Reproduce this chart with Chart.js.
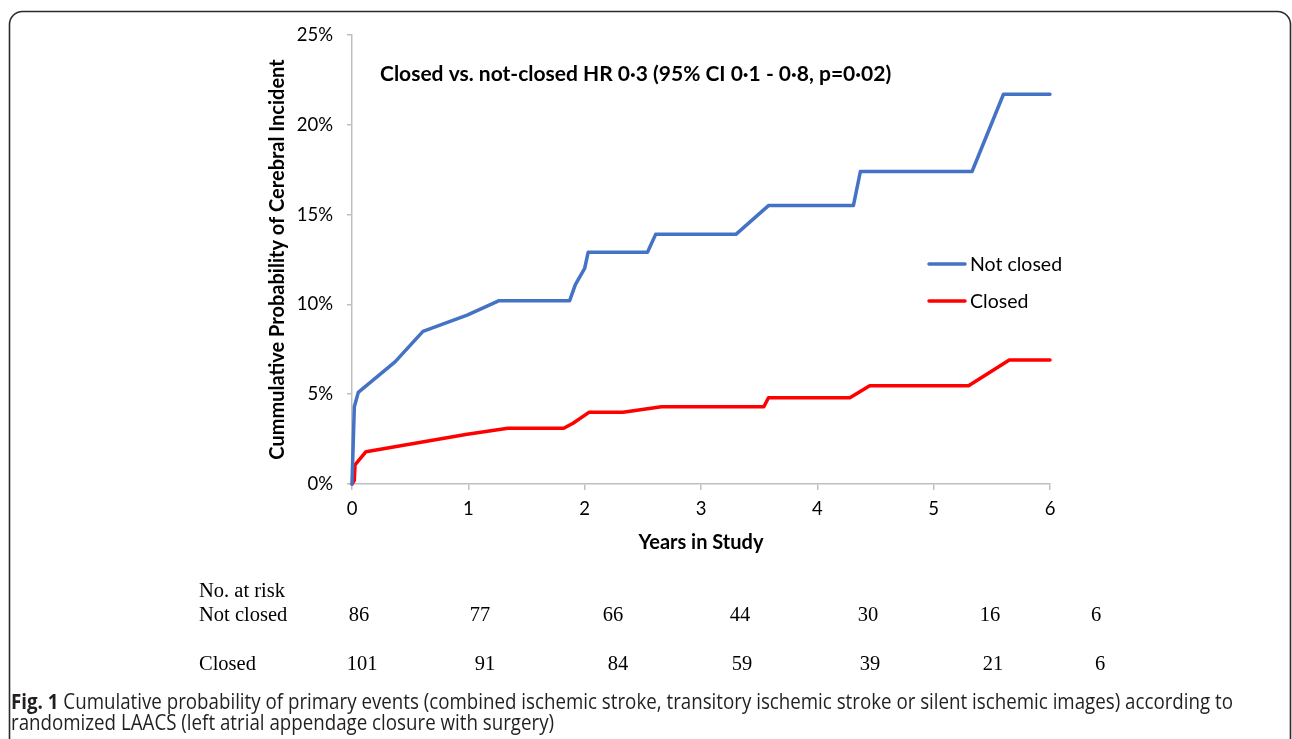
<!DOCTYPE html>
<html>
<head>
<meta charset="utf-8">
<script src="https://cdn.jsdelivr.net/npm/chart.js@4"></script>
<style>
  html, body { margin: 0; padding: 0; background: #fff; }
  #wrap { width: 1292px; height: 739px; position: relative; }
</style>
</head>
<body>
<div id="wrap"><canvas id="cumChart" width="1292" height="739"></canvas></div>
<script>
// Kaplan-Meier style cumulative incidence
const notClosedYears = [0, 0.02, 0.054, 0.37, 0.61, 0.99, 1.26, 1.87, 1.92, 2.0, 2.03, 2.54, 2.61, 3.30, 3.58, 4.31, 4.37, 5.33, 5.60, 6.0];
const notClosedPct = [0, 4.3, 5.1, 6.8, 8.5, 9.4, 10.2, 10.2, 11.1, 12.0, 12.9, 12.9, 13.9, 13.9, 15.5, 15.5, 17.4, 17.4, 21.7, 21.7];
const closedYears = [0, 0.02, 0.026, 0.12, 0.99, 1.34, 1.82, 1.9, 2.04, 2.33, 2.66, 3.54, 3.58, 4.28, 4.45, 5.30, 5.65, 6.0];
const closedPct = [0, 0.2, 1.06, 1.8, 2.77, 3.1, 3.1, 3.38, 4.0, 4.0, 4.3, 4.3, 4.8, 4.8, 5.47, 5.47, 6.9, 6.9];

const seriesLabels = ['Not closed', 'Closed'];
const yTicksPct = [0, 5, 10, 15, 20, 25];
const xTicksYears = [0, 1, 2, 3, 4, 5, 6];

// number at risk table
const riskNotClosed = [86, 77, 66, 44, 30, 16, 6];
const riskClosed = [101, 91, 84, 59, 39, 21, 6];

const hrText = 'Closed vs. not-closed HR 0\u00b73 (95% CI 0\u00b71 - 0\u00b78, p=0\u00b702)';
const captionBold = 'Fig. 1';
const captionLine1 = ' Cumulative probability of primary events (combined ischemic stroke, transitory ischemic stroke or silent ischemic images) according to';
const captionLine2 = 'randomized LAACS (left atrial appendage closure with surgery)';

const toPoints = (xs, ys) => xs.map((x, i) => ({ x: x, y: ys[i] }));

const axisGrey = '#BFBFBF';
const calibriLike = 'Lato, "Open Sans", sans-serif';

// frame, annotation, legend, risk table and caption
const extrasPlugin = {
    id: 'extras',
    beforeDraw(chart) {
        const ctx = chart.ctx;
        ctx.save();
        ctx.fillStyle = '#fff';
        ctx.fillRect(0, 0, chart.width, chart.height);
        // rounded figure frame
        ctx.strokeStyle = '#2b2b2b';
        ctx.lineWidth = 1.6;
        ctx.beginPath();
        ctx.roundRect(9.5, 11.5, 1281, 760, 13);
        ctx.stroke();
        ctx.restore();
    },
    afterDraw(chart) {
        const ctx = chart.ctx;
        ctx.save();

        // hazard ratio note
        ctx.fillStyle = '#000';
        ctx.font = 'bold 21px ' + calibriLike;
        ctx.textBaseline = 'middle';
        ctx.textAlign = 'left';
        ctx.fillText(hrText, 380, 74, 512);

        // legend
        chart.data.datasets.forEach((ds, i) => {
            const y = 264 + i * 37;
            ctx.strokeStyle = ds.borderColor;
            ctx.lineWidth = 3.5;
            ctx.lineCap = 'round';
            ctx.beginPath();
            ctx.moveTo(929, y);
            ctx.lineTo(965, y);
            ctx.stroke();
            ctx.fillStyle = '#000';
            ctx.font = '19.5px ' + calibriLike;
            ctx.textBaseline = 'middle';
            ctx.fillText(ds.label, 970, y + 1);
        });

        // number at risk
        ctx.font = '20.5px "Liberation Serif", "Times New Roman", serif';
        ctx.textBaseline = 'alphabetic';
        ctx.fillStyle = '#000';
        ctx.textAlign = 'left';
        ctx.fillText('No. at risk', 199, 597);
        ctx.fillText(seriesLabels[0], 199, 621);
        ctx.fillText(seriesLabels[1], 199, 670);
        ctx.textAlign = 'center';
        const colsTop = [359, 480, 613, 740, 868, 990, 1096];
        const colsBottom = [362, 485, 618, 742, 870, 993, 1100];
        riskNotClosed.forEach((n, i) => ctx.fillText(String(n), colsTop[i], 621));
        riskClosed.forEach((n, i) => ctx.fillText(String(n), colsBottom[i], 670));

        // caption, squeezed to a condensed look
        ctx.textAlign = 'left';
        ctx.fillStyle = '#231f20';
        const capFont = '"Open Sans", sans-serif';
        ctx.font = 'bold 21.5px ' + capFont;
        const wBold = ctx.measureText(captionBold).width;
        ctx.font = '21.5px ' + capFont;
        const w1 = ctx.measureText(captionLine1).width;
        const squeeze = (1233 - 11) / (wBold + w1);
        ctx.translate(11, 0);
        ctx.scale(squeeze, 1);
        ctx.font = 'bold 21.5px ' + capFont;
        ctx.fillText(captionBold, 0, 709);
        ctx.font = '21.5px ' + capFont;
        ctx.fillText(captionLine1, wBold, 709);
        ctx.fillText(captionLine2, 0, 730);
        ctx.restore();
    }
};

const ctx = document.getElementById('cumChart').getContext('2d');

new Chart(ctx, {
    type: 'scatter',
    data: {
        datasets: [
            {
                label: seriesLabels[0],
                data: toPoints(notClosedYears, notClosedPct),
                borderColor: '#4472C4',
                backgroundColor: '#4472C4',
                showLine: true,
                borderWidth: 3.5,
                pointRadius: 0,
                tension: 0,
                borderJoinStyle: 'round',
                borderCapStyle: 'round',
            },
            {
                label: seriesLabels[1],
                data: toPoints(closedYears, closedPct),
                borderColor: '#FF0000',
                backgroundColor: '#FF0000',
                showLine: true,
                borderWidth: 3.5,
                pointRadius: 0,
                tension: 0,
                borderJoinStyle: 'round',
                borderCapStyle: 'round',
            }
        ]
    },
    options: {
        responsive: false,
        animation: false,
        clip: false,
        layout: {
            padding: { left: 260, right: 242, top: 35, bottom: 180 }
        },
        scales: {
            x: {
                type: 'linear',
                min: 0,
                max: 6,
                afterFit: (scale) => { scale.height = 75; },
                afterBuildTicks: (scale) => { scale.ticks = xTicksYears.map(v => ({ value: v })); },
                border: { color: axisGrey, width: 1.5 },
                grid: { display: true, drawOnChartArea: false, drawTicks: true, tickLength: 6, color: axisGrey, lineWidth: 1.5 },
                ticks: {
                    color: '#000',
                    padding: 8,
                    font: { size: 18.5, family: calibriLike },
                },
                title: {
                    display: true,
                    text: 'Years in Study',
                    color: '#000',
                    padding: { top: 0, bottom: 4 },
                    font: { size: 20, weight: 'bold', family: calibriLike },
                },
            },
            y: {
                min: 0,
                max: 25,
                afterFit: (scale) => { scale.width = 92; },
                afterBuildTicks: (scale) => { scale.ticks = yTicksPct.map(v => ({ value: v })); },
                border: { color: axisGrey, width: 1.5 },
                grid: { display: true, drawOnChartArea: false, drawTicks: true, tickLength: 5, color: axisGrey, lineWidth: 1.5 },
                ticks: {
                    color: '#000',
                    padding: 14,
                    font: { size: 18.5, family: calibriLike },
                    callback: (v) => v + '%',
                },
                title: {
                    display: true,
                    text: 'Cummulative Probability of Cerebral Incident',
                    color: '#000',
                    padding: { top: 6, bottom: 0 },
                    font: { size: 20, weight: 'bold', family: calibriLike },
                },
            },
        },
        plugins: {
            legend: { display: false },
            tooltip: { enabled: false },
        },
    },
    plugins: [extrasPlugin],
});
</script>
</body>
</html>
